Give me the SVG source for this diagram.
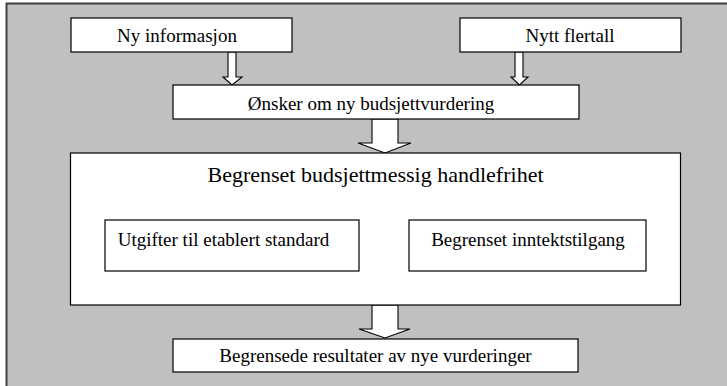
<svg xmlns="http://www.w3.org/2000/svg" width="727" height="386" viewBox="0 0 727 386">
  <style>
    .box { fill: #ffffff; stroke: #000000; stroke-width: 1.2; }
    .arrow { fill: #ffffff; stroke: #000000; stroke-width: 1.1; stroke-linejoin: miter; }
  </style>

  <!-- background panel -->
  <rect x="6.5" y="3.5" width="740" height="400" fill="#c0c0c0" stroke="#404040" stroke-width="2"/>

  <!-- block arrows -->
  <g id="connectors">
    <polygon class="arrow" points="228,52 236,52 236,77 242,77 232,85 223,77 228,77"/>
    <polygon class="arrow" points="515,52 523,52 523,77 528,77 519.5,85 511,77 515,77"/>
    <polygon class="arrow" points="372,119 398,119 398,143 411,143 385,153 358,143 372,143"/>
    <polygon class="arrow" points="372,305 398,305 398,329 410,329 385,338 359,329 372,329"/>
  </g>

  <g id="ny-informasjon">
    <rect class="box" x="71" y="18" width="221" height="34"/>
    <text font-family="Liberation Serif" font-size="19" text-anchor="middle" x="177" y="42">Ny informasjon</text>
  </g>

  <g id="nytt-flertall">
    <rect class="box" x="460" y="18" width="221" height="34"/>
    <text font-family="Liberation Serif" font-size="19" text-anchor="middle" x="570" y="42">Nytt flertall</text>
  </g>

  <g id="onsker">
    <rect class="box" x="173" y="85" width="406" height="34"/>
    <text font-family="Liberation Serif" font-size="19" text-anchor="middle" x="371" y="110">Ønsker om ny budsjettvurdering</text>
  </g>

  <g id="handlefrihet">
    <rect class="box" x="70.5" y="153" width="610" height="152"/>
    <text font-family="Liberation Serif" font-size="22" text-anchor="middle" x="375.5" y="182">Begrenset budsjettmessig handlefrihet</text>
  </g>

  <g id="utgifter">
    <rect class="box" x="105" y="220" width="254" height="51"/>
    <text font-family="Liberation Serif" font-size="19" text-anchor="middle" x="223.5" y="246">Utgifter til etablert standard</text>
  </g>

  <g id="inntekt">
    <rect class="box" x="409" y="220" width="237" height="51"/>
    <text font-family="Liberation Serif" font-size="19" text-anchor="middle" x="528" y="246">Begrenset inntektstilgang</text>
  </g>

  <g id="resultater">
    <rect class="box" x="173" y="339" width="405" height="33"/>
    <text font-family="Liberation Serif" font-size="19" text-anchor="middle" x="375.5" y="362">Begrensede resultater av nye vurderinger</text>
  </g>
</svg>
